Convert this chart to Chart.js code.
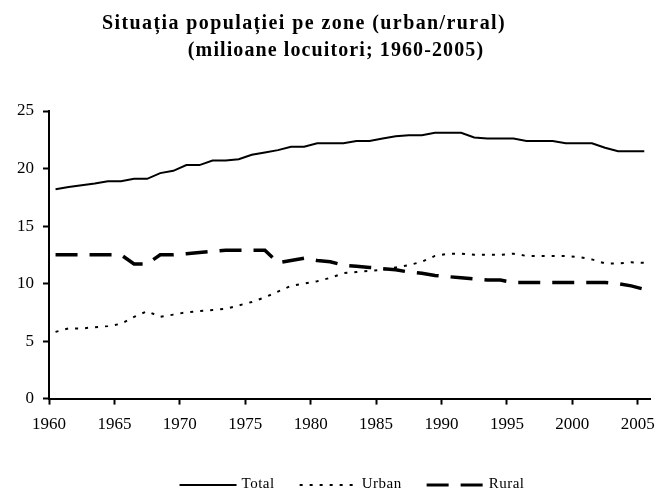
<!DOCTYPE html>
<html>
<head>
<meta charset="utf-8">
<script src="https://cdn.jsdelivr.net/npm/chart.js@4.4.1/dist/chart.umd.min.js"></script>
<style>
  html, body { margin: 0; padding: 0; background: #fff; }
  #wrap { width: 665px; height: 493px; }
</style>
</head>
<body>
<div id="wrap"><canvas id="chart" width="665" height="493"></canvas></div>
<script>
const titleLines = ['Situația populației pe zone (urban/rural)', '(milioane locuitori; 1960-2005)'];

const years = [
  1960, 1961, 1962, 1963, 1964, 1965, 1966, 1967, 1968, 1969,
  1970, 1971, 1972, 1973, 1974, 1975, 1976, 1977, 1978, 1979,
  1980, 1981, 1982, 1983, 1984, 1985, 1986, 1987, 1988, 1989,
  1990, 1991, 1992, 1993, 1994, 1995, 1996, 1997, 1998, 1999,
  2000, 2001, 2002, 2003, 2004, 2005
];

const total = [
  18.2, 18.4, 18.55, 18.7, 18.9, 18.9, 19.1, 19.1, 19.6, 19.8,
  20.3, 20.3, 20.7, 20.7, 20.8, 21.2, 21.4, 21.6, 21.9, 21.9,
  22.2, 22.2, 22.2, 22.4, 22.4, 22.6, 22.8, 22.9, 22.9, 23.1,
  23.1, 23.1, 22.7, 22.6, 22.6, 22.6, 22.4, 22.4, 22.4, 22.2,
  22.2, 22.2, 21.8, 21.5, 21.5, 21.5
];

const urban = [
  5.8, 6.1, 6.1, 6.2, 6.3, 6.5, 7.1, 7.6, 7.1, 7.3,
  7.5, 7.6, 7.7, 7.8, 8.1, 8.4, 8.8, 9.3, 9.8, 10.0,
  10.2, 10.5, 10.9, 11.0, 11.1, 11.2, 11.4, 11.6, 11.9, 12.4,
  12.6, 12.6, 12.5, 12.5, 12.5, 12.6, 12.4, 12.4, 12.4, 12.4,
  12.3, 12.1, 11.75, 11.75, 11.85, 11.8
];

const rural = [
  12.5, 12.5, 12.5, 12.5, 12.5, 12.5, 11.7, 11.7, 12.5, 12.5,
  12.6, 12.7, 12.8, 12.9, 12.9, 12.9, 12.9, 11.8, 12.0, 12.2,
  12.0, 11.9, 11.6, 11.5, 11.4, 11.3, 11.2, 11.0, 10.9, 10.7,
  10.6, 10.5, 10.4, 10.3, 10.3, 10.1, 10.1, 10.1, 10.1, 10.1,
  10.1, 10.1, 10.1, 10.0, 9.8, 9.5
];

const yTicks = [0, 5, 10, 15, 20, 25];

// points sit in the middle of each year, ticks mark the year start
const pts = vals => vals.map((v, i) => ({ x: years[i] + 0.5, y: v }));

const serif = '"Liberation Serif", "Times New Roman", Times, serif';

const titlePlugin = {
  id: 'twoLineTitle',
  afterDraw(chart) {
    const ctx = chart.ctx;
    ctx.save();
    ctx.fillStyle = '#000';
    ctx.textAlign = 'center';
    ctx.textBaseline = 'alphabetic';
    ctx.font = `bold 20px ${serif}`;
    ctx.letterSpacing = '1.4px';
    ctx.fillText(titleLines[0], 304, 29);
    ctx.letterSpacing = '1.1px';
    ctx.fillText(titleLines[1], 336, 56);
    ctx.restore();
  }
};

// legend drawn by hand so the line samples keep their dash patterns
const legendPlugin = {
  id: 'lineLegend',
  afterDraw(chart) {
    const ctx = chart.ctx;
    const sample = 57, gap = 5, spacing = 25, centerX = 352, lineY = 485, textY = 488;
    ctx.save();
    ctx.font = `15px ${serif}`;
    ctx.letterSpacing = '0.5px';
    const sets = chart.data.datasets;
    const widths = sets.map(ds => sample + gap + ctx.measureText(ds.label).width);
    const full = widths.reduce((a, b) => a + b, 0) + spacing * (sets.length - 1);
    let x = centerX - full / 2;
    sets.forEach((ds, i) => {
      ctx.beginPath();
      ctx.strokeStyle = ds.borderColor;
      ctx.lineWidth = Math.min(ds.borderWidth, 3);
      ctx.setLineDash(ds.borderDash || []);
      ctx.moveTo(x, lineY);
      ctx.lineTo(x + sample, lineY);
      ctx.stroke();
      ctx.fillStyle = '#000';
      ctx.textAlign = 'left';
      ctx.textBaseline = 'alphabetic';
      ctx.fillText(ds.label, x + sample + gap, textY);
      x += widths[i] + spacing;
    });
    ctx.restore();
  }
};

new Chart(document.getElementById('chart'), {
  type: 'line',
  data: {
    datasets: [
      { label: 'Total', data: pts(total), borderColor: '#000', backgroundColor: '#000', borderWidth: 2 },
      { label: 'Urban', data: pts(urban), borderColor: '#000', backgroundColor: '#000', borderWidth: 2, borderDash: [3, 7] },
      { label: 'Rural', data: pts(rural), borderColor: '#000', backgroundColor: '#000', borderWidth: 3.5, borderDash: [22, 12] }
    ]
  },
  options: {
    responsive: false,
    animation: false,
    layout: { padding: { top: 111, right: 12, bottom: 48, left: 0 } },
    elements: { point: { radius: 0 }, line: { tension: 0 } },
    scales: {
      x: {
        type: 'linear',
        min: 1960,
        max: 2006,
        grid: { display: true, drawOnChartArea: false, drawTicks: true, tickLength: 6, tickColor: '#000', tickWidth: 2 },
        border: { display: true, color: '#000', width: 2 },
        ticks: {
          stepSize: 5,
          includeBounds: false,
          autoSkip: false,
          maxRotation: 0,
          color: '#000',
          padding: 10,
          font: { family: serif, size: 17 },
          callback: v => String(v)
        }
      },
      y: {
        min: 0,
        max: 25,
        afterBuildTicks: scale => { scale.ticks = yTicks.map(v => ({ value: v })); },
        afterFit: scale => { scale.width = 49; },
        grid: { display: true, drawOnChartArea: false, drawTicks: true, tickLength: 6, tickColor: '#000', tickWidth: 2 },
        border: { display: true, color: '#000', width: 2 },
        ticks: { color: '#000', padding: 9, font: { family: serif, size: 17 } }
      }
    },
    plugins: {
      title: { display: false },
      tooltip: { enabled: false },
      legend: { display: false }
    }
  },
  plugins: [titlePlugin, legendPlugin]
});
</script>
</body>
</html>
